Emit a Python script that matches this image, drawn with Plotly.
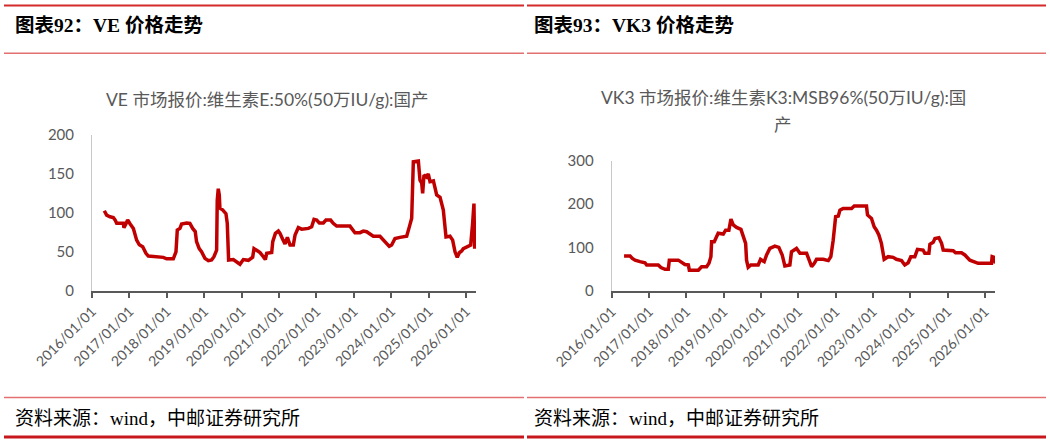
import plotly.graph_objects as go

# ---------------- data ----------------
ve_dates = ["2016-04-30","2016-05-23","2016-06-25","2016-07-27","2016-08-13","2016-08-29","2016-11-02","2016-11-08",
            "2016-11-28","2016-12-14","2017-01-06","2017-02-08","2017-03-12","2017-04-07","2017-05-10","2017-06-11",
            "2017-07-04","2017-08-22","2017-11-27","2017-12-30","2018-03-05","2018-03-31","2018-04-13","2018-05-09",
            "2018-05-25","2018-07-13","2018-08-14","2018-09-10","2018-10-05","2018-10-18","2018-11-13","2018-12-06",
            "2019-01-08","2019-02-10","2019-03-14","2019-04-06","2019-05-02","2019-05-08","2019-05-18","2019-05-28",
            "2019-06-03","2019-06-29","2019-08-01","2019-08-14","2019-08-27","2019-10-12","2019-11-20","2019-12-16",
            "2020-01-18","2020-03-07","2020-04-18","2020-05-01","2020-05-27","2020-06-29","2020-07-31","2020-08-20",
            "2020-09-02","2020-10-21","2020-10-31","2020-11-26","2020-12-25","2021-01-10","2021-02-05","2021-02-28",
            "2021-03-23","2021-04-18","2021-05-20","2021-06-06","2021-07-08","2021-08-10","2021-10-14","2021-11-15",
            "2021-12-08","2022-01-03","2022-01-29","2022-03-09","2022-04-04","2022-05-19","2022-06-14","2022-07-17",
            "2022-11-24","2022-12-27","2023-01-12","2023-03-02","2023-04-04","2023-05-06","2023-06-08","2023-07-10",
            "2023-09-13","2023-10-16","2023-11-17","2023-12-13","2024-01-05","2024-01-21","2024-02-07","2024-03-26",
            "2024-05-31","2024-06-26","2024-07-19","2024-08-04","2024-09-22","2024-10-08","2024-10-25","2024-11-03",
            "2024-11-16","2024-12-12","2024-12-28","2025-01-14","2025-02-16","2025-03-20","2025-04-22","2025-05-24",
            "2025-06-19","2025-07-28","2025-08-23","2025-09-15","2025-10-07","2025-10-27","2025-11-19","2025-12-05",
            "2026-01-23","2026-02-15","2026-03-06","2026-03-19","2026-03-26"]
ve_values = [102.7,97,95,94,91,86.5,86.5,81,
             86,91,86,80,65,59,56.5,48,
             44.5,43.7,42.8,41,41,50,78,80,
             85.6,87,86.5,80,76,63,54,50,
             41.5,38.5,39.4,43.7,52,116,131,123,
             106,104,99,86.5,39.4,40,37,34,
             40,39,43,54,52,49,43.7,40,
             48,49,63,73.6,76.6,73.6,66,60,
             68.5,58.6,58.6,71.5,81,79,80,82,
             91.6,90.7,87,87,90.7,90.7,86.5,83,
             83,78,74.5,74.5,76.6,75.8,72.8,70,
             70,65,60,57,58.6,63,67,68.5,
             70,82,93,165.7,166.5,142,138,125,
             148.6,146,150,140,141,123,120,103.6,
             69,70,65,50,42.8,48.8,51,54,
             56.5,58.6,86.5,112,54]

vk3_dates = ["2016-05-01","2016-06-29","2016-07-21","2016-08-17","2016-10-04","2016-11-22","2016-12-08","2017-04-01",
             "2017-04-27","2017-06-06","2017-07-08","2017-07-18","2017-10-14","2017-11-15","2017-12-18","2018-01-20",
             "2018-01-30","2018-04-28","2018-05-30","2018-07-18","2018-08-10","2018-08-29","2018-09-05","2018-10-01",
             "2018-10-23","2018-11-08","2018-12-28","2019-01-20","2019-02-21","2019-03-03","2019-03-13","2019-04-05",
             "2019-05-07","2019-06-19","2019-07-12","2019-08-04","2019-08-13","2019-08-29","2019-09-24","2019-12-05",
             "2019-12-28","2020-02-02","2020-02-25","2020-03-28","2020-05-16","2020-06-24","2020-07-27","2020-08-22",
             "2020-10-10","2020-10-26","2020-12-14","2021-01-17","2021-03-23","2021-04-15","2021-05-11","2021-06-06",
             "2021-06-28","2021-09-02","2021-10-21","2021-11-15","2021-12-08","2022-01-01","2022-01-27","2022-02-12",
             "2022-03-16","2022-06-06","2022-07-02","2022-10-30","2022-11-09","2022-12-18","2023-01-13","2023-02-05",
             "2023-02-28","2023-03-25","2023-04-21","2023-05-30","2023-07-18","2023-08-19","2023-10-08","2023-11-09",
             "2023-12-12","2024-01-07","2024-02-15","2024-03-12","2024-05-06","2024-05-23","2024-07-02","2024-07-12",
             "2024-08-13","2024-08-30","2024-10-08","2024-11-03","2024-11-19","2025-02-25","2025-03-20","2025-05-17",
             "2025-06-19","2025-08-07","2025-09-08","2025-10-27","2026-03-07","2026-03-13","2026-04-01","2026-04-14"]
vk3_values = [80.5,80.5,75,71,67.5,65,60,60,
              54,50,50,71,71,65,61,60,
              48,48,56,56,64,79,113.5,113.5,
              123.5,133,131,140,140,155.7,165.7,152,
              146.5,142,125,109.7,71,54.5,60,60,
              73,67.5,83,98,103.5,100.5,83,57.5,
              60,90.5,98,86.7,86.7,71,56,63.7,
              73,73,70,79,117,171,172.6,186,
              190,190,195.6,195.6,175,167,148,140,
              129,109.7,73,79,77.5,73,70,60,
              65,79,79,96,94.3,86.7,86.7,107.4,
              112,121,122.7,109.7,94.3,92.8,88,88,
              83,71,67.5,63.7,63.7,79,77.5,63.7]

year_ticks = ["2016-01-01","2017-01-01","2018-01-01","2019-01-01","2020-01-01","2021-01-01",
              "2022-01-01","2023-01-01","2024-01-01","2025-01-01","2026-01-01"]
year_labels = ["2016/01/01","2017/01/01","2018/01/01","2019/01/01","2020/01/01","2021/01/01",
               "2022/01/01","2023/01/01","2024/01/01","2025/01/01","2026/01/01"]
ve_yticks = [0, 50, 100, 150, 200]
vk3_yticks = [0, 100, 200, 300]

# ---------------- figure ----------------
W, H = 1050, 444
RED = "#c00000"
GRAY = "#595959"
SANS = "Lato, 'Noto Sans CJK SC', sans-serif"
SERIF = "'Liberation Serif', 'Noto Sans CJK SC', serif"

def px(x):
    return x / W

def py(y):
    return 1 - y / H

fig = go.Figure()
fig.add_trace(go.Scatter(x=ve_dates, y=ve_values, mode="lines",
                         line=dict(color=RED, width=3.5), xaxis="x", yaxis="y",
                         showlegend=False, hoverinfo="skip"))
fig.add_trace(go.Scatter(x=vk3_dates, y=vk3_values, mode="lines",
                         line=dict(color=RED, width=3.5), xaxis="x2", yaxis="y2",
                         showlegend=False, hoverinfo="skip"))

xcommon = dict(type="date", tickmode="array", tickvals=year_ticks, ticktext=year_labels,
               tickangle=-45, ticks="outside", ticklen=5, tickwidth=1.5, tickcolor=GRAY,
               showline=True, linecolor=GRAY, linewidth=2, showgrid=False, zeroline=False,
               tickfont=dict(family=SANS, size=14, color=GRAY), fixedrange=True, automargin=False)
ycommon = dict(showline=True, linecolor="#c8c8c8", linewidth=1, showgrid=False, zeroline=False,
               ticks="", tickfont=dict(family=SANS, size=15, color=GRAY), ticklabelstandoff=14,
               fixedrange=True, automargin=False)

fig.update_layout(
    width=W, height=H, margin=dict(l=0, r=0, t=0, b=0, autoexpand=False),
    paper_bgcolor="white", plot_bgcolor="white",
    xaxis=dict(domain=[px(92), px(476)], range=["2016-01-01", "2026-04-08"], anchor="y", **xcommon),
    yaxis=dict(domain=[py(290.7), py(135)], range=[0, 200], tickvals=ve_yticks, anchor="x", **ycommon),
    xaxis2=dict(domain=[px(611.7), px(995)], range=["2016-01-01", "2026-04-10"], anchor="y2", **xcommon),
    yaxis2=dict(domain=[py(291), py(160.7)], range=[0, 300], tickvals=vk3_yticks, anchor="x2", **ycommon),
)

shapes = []
for x0, x1 in [(4, 524), (527, 1046)]:
    shapes.append(dict(type="line", xref="paper", yref="paper", x0=px(x0), x1=px(x1), y0=py(5.5), y1=py(5.5),
                       line=dict(color="#d42a2a", width=2)))
    shapes.append(dict(type="line", xref="paper", yref="paper", x0=px(x0), x1=px(x1), y0=py(53.3), y1=py(53.3),
                       line=dict(color="#e27070", width=1.5)))
    shapes.append(dict(type="line", xref="paper", yref="paper", x0=px(x0), x1=px(x1), y0=py(397.5), y1=py(397.5),
                       line=dict(color="#e27070", width=1.5)))
    shapes.append(dict(type="line", xref="paper", yref="paper", x0=px(x0), x1=px(x1), y0=py(437), y1=py(437),
                       line=dict(color="#c8161d", width=3)))
fig.update_layout(shapes=shapes)

ann = []
ann.append(dict(text="<b>图表92：VE 价格走势</b>", x=px(13), y=py(26), xanchor="left", yanchor="middle",
                font=dict(family=SERIF, size=19.5, color="black")))
ann.append(dict(text="<b>图表93：VK3 价格走势</b>", x=px(532), y=py(26), xanchor="left", yanchor="middle",
                font=dict(family=SERIF, size=19.5, color="black")))
ann.append(dict(text="VE 市场报价:维生素E:50%(50万IU/g):国产", x=px(267), y=py(99), xanchor="center",
                yanchor="middle", font=dict(family=SANS, size=17.5, color=GRAY)))
ann.append(dict(text="VK3 市场报价:维生素K3:MSB96%(50万IU/g):国", x=px(783), y=py(98), xanchor="center",
                yanchor="middle", font=dict(family=SANS, size=17.5, color=GRAY)))
ann.append(dict(text="产", x=px(783), y=py(124), xanchor="center",
                yanchor="middle", font=dict(family=SANS, size=17.5, color=GRAY)))
ann.append(dict(text="资料来源：wind，中邮证券研究所", x=px(13), y=py(418), xanchor="left", yanchor="middle",
                font=dict(family=SERIF, size=19, color="black")))
ann.append(dict(text="资料来源：wind，中邮证券研究所", x=px(532), y=py(418), xanchor="left", yanchor="middle",
                font=dict(family=SERIF, size=19, color="black")))
for a in ann:
    a.update(xref="paper", yref="paper", showarrow=False)
fig.update_layout(annotations=ann)

fig.write_html("out.html")
